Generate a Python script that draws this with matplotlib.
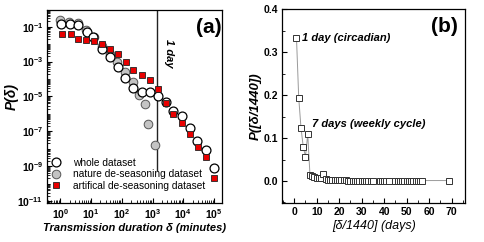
import numpy as np
import matplotlib
matplotlib.use("Agg")
import matplotlib.pyplot as plt
from matplotlib.ticker import LogLocator, FixedLocator, NullFormatter, MultipleLocator

plt.rcParams['font.family'] = ['Liberation Sans', 'DejaVu Sans']
plt.rcParams['mathtext.fontset'] = 'custom'
plt.rcParams['mathtext.bf'] = 'Liberation Sans:bold'
plt.rcParams['mathtext.rm'] = 'Liberation Sans'

# ---- panel (a) data (log10 values) ----
whole_logx = [0.01, 0.31, 0.58, 0.85, 1.07, 1.34, 1.61, 1.88, 2.10, 2.37, 2.64, 2.92, 3.19, 3.44, 3.67, 3.95, 4.22, 4.46, 4.74, 5.00]
whole_logy = [-0.84, -0.84, -0.90, -1.29, -1.58, -2.25, -2.73, -3.31, -3.92, -4.50, -4.77, -4.75, -5.00, -5.34, -5.81, -6.10, -6.83, -7.54, -8.07, -9.13]

nature_logx = [0.00, 0.29, 0.57, 0.83, 1.09, 1.34, 1.61, 1.84, 2.10, 2.36, 2.57, 2.75, 2.86, 3.08]
nature_logy = [-0.61, -0.73, -0.79, -1.19, -1.59, -2.11, -2.58, -3.04, -3.61, -4.19, -4.94, -5.42, -6.61, -7.77]

artif_logx = [0.06, 0.33, 0.58, 0.82, 1.09, 1.34, 1.61, 1.86, 2.13, 2.37, 2.64, 2.92, 3.19, 3.44, 3.67, 3.95, 4.22, 4.49, 4.74, 5.00]
artif_logy = [-1.42, -1.42, -1.71, -1.75, -1.84, -2.00, -2.25, -2.58, -3.05, -3.50, -3.79, -4.08, -4.55, -5.39, -6.00, -6.54, -7.15, -7.92, -8.46, -9.69]

day_minutes = 1440

# ---- panel (b) data ----
days = [1, 2, 3, 4, 5, 6, 7, 8, 9, 10, 11, 12, 13, 14, 15, 16, 17, 18, 19, 20,
        21, 22, 23, 24, 25, 26, 27, 28, 29, 30, 31, 32, 33, 34, 35,
        38, 39, 40, 41, 42, 45, 46, 47, 48, 49, 50, 51, 52, 53, 54, 55, 56, 57, 69]
prob = [0.334, 0.194, 0.124, 0.080, 0.057, 0.109, 0.014, 0.012, 0.010, 0.008, 0.007, 0.006, 0.017, 0.004, 0.003, 0.003, 0.003, 0.003, 0.002, 0.002,
        0.002, 0.002, 0.002, 0.001, 0.001, 0.001, 0.001, 0.001, 0.001, 0.001, 0.001, 0.001, 0.001, 0.001, 0.001,
        0.001, 0.001, 0.001, 0.001, 0.001, 0.001, 0.001, 0.001, 0.001, 0.001, 0.001, 0.001, 0.001, 0.001, 0.001, 0.001, 0.001, 0.001, 0.001]

W, H = 485, 242
fig = plt.figure(figsize=(W / 100, H / 100), dpi=100)

def px_axes(l, r, t, b):
    return fig.add_axes([l / W, 1 - b / H, (r - l) / W, (b - t) / H])

# ---------------- panel (a) ----------------
ax = px_axes(47.5, 222, 10, 202.7)
wx = 10 ** np.array(whole_logx); wy = 10 ** np.array(whole_logy)
nx = 10 ** np.array(nature_logx); ny = 10 ** np.array(nature_logy)
ax_ = 10 ** np.array(artif_logx); ay = 10 ** np.array(artif_logy)

ax.plot(nx, ny, 'o', ms=6.2, mfc='#c4c4c4', mec='#555555', mew=0.7, ls='none', zorder=3,
        label='nature de-seasoning dataset')
ax.plot(wx, wy, 'o', ms=6.4, mfc='white', mec='black', mew=0.9, ls='none', zorder=4,
        label='whole dataset')
ax.plot(ax_, ay, 's', ms=5.0, mfc='#e80000', mec='#222222', mew=0.6, ls='none', zorder=5,
        label='artifical de-seasoning dataset')
ax.plot([day_minutes, day_minutes], [10 ** -9.2, 10 ** 0.5], color='#222222', lw=1.0, zorder=2)

ax.set_xscale('log'); ax.set_yscale('log')
ax.set_xlim(10 ** -0.42, 10 ** 5.26)
ax.set_ylim(10 ** -11.1, 10 ** -0.04)
ax.xaxis.set_major_locator(FixedLocator([1, 10, 100, 1000, 1e4, 1e5]))
ax.xaxis.set_minor_locator(LogLocator(base=10, subs=np.arange(2, 10), numticks=20))
ax.xaxis.set_minor_formatter(NullFormatter())
ax.set_xticklabels([r'$\mathbf{10^{%d}}$' % i for i in range(6)])
yt = [10.0 ** e for e in (-1, -3, -5, -7, -9, -11)]
ax.yaxis.set_major_locator(FixedLocator(yt))
ax.set_yticklabels([r'$\mathbf{10^{%d}}$' % e for e in (-1, -3, -5, -7, -9, -11)])
ax.yaxis.set_minor_locator(FixedLocator([10.0 ** e * s for e in range(-12, 1) for s in (1, 2, 3, 4, 5, 6, 7, 8, 9) if not (s == 1 and e % 2 == 1)]))
ax.yaxis.set_minor_formatter(NullFormatter())
ax.tick_params(which='both', direction='in', labelsize=7.5, pad=3)
ax.tick_params(which='major', length=3.5, width=0.8)
ax.tick_params(which='minor', length=2, width=0.6)
for s in ax.spines.values():
    s.set_linewidth(0.9)

ax.set_xlabel('Transmission duration δ (minutes)', fontsize=8, fontweight='bold', style='italic', labelpad=2)
ax.set_ylabel('P(δ)', fontsize=10, fontweight='bold', style='italic', labelpad=1)
ax.yaxis.set_label_coords(-0.165, 0.55)
ax.text(0.995, 0.91, '(a)', transform=ax.transAxes, ha='right', va='center', fontsize=15, fontweight='bold')
ax.text(10 ** 3.53, 10 ** -2.5, '1 day', rotation=-90, ha='center', va='center', fontsize=8,
        fontweight='bold', style='italic')

h = ax.get_legend_handles_labels()[0]
leg = ax.legend([h[1], h[0], h[2]], ['whole dataset', 'nature de-seasoning dataset', 'artifical de-seasoning dataset'],
                loc='lower left', bbox_to_anchor=(0.0, 0.035), frameon=False, fontsize=7.3,
                handletextpad=1.45, labelspacing=0.15, borderaxespad=0.2, borderpad=0.3, handlelength=0.6)

# ---------------- panel (b) ----------------
bx = px_axes(282.3, 465, 9.3, 203.3)
bx.plot(days, prob, '-', color='#9a9a9a', lw=0.7, zorder=2)
bx.plot(days, prob, 's', ms=4.4, mfc='white', mec='#333333', mew=0.7, ls='none', zorder=3)
bx.set_xlim(-5.3, 75.9)
bx.set_ylim(-0.052, 0.4)
bx.xaxis.set_major_locator(MultipleLocator(10))
bx.xaxis.set_minor_locator(MultipleLocator(5))
bx.yaxis.set_major_locator(MultipleLocator(0.1))
bx.yaxis.set_minor_locator(MultipleLocator(0.05))
bx.set_xticks(range(0, 71, 10))
bx.set_xticklabels([str(v) for v in range(0, 71, 10)], fontweight='bold')
bx.set_yticks([0.0, 0.1, 0.2, 0.3, 0.4])
bx.set_yticklabels(['0.0', '0.1', '0.2', '0.3', '0.4'], fontweight='bold')
bx.tick_params(which='both', direction='in', labelsize=7.5, pad=3)
bx.tick_params(which='major', length=3.5, width=0.8)
bx.tick_params(which='minor', length=2, width=0.6)
for s in bx.spines.values():
    s.set_linewidth(0.9)
bx.set_xlabel('[δ/1440] (days)', fontsize=9, style='italic', labelpad=2)
bx.set_ylabel('P([δ/1440])', fontsize=9.5, fontweight='bold', style='italic', labelpad=1)
bx.text(0.96, 0.91, '(b)', transform=bx.transAxes, ha='right', va='center', fontsize=15, fontweight='bold')
bx.text(3.3, 0.334, '1 day (circadian)', ha='left', va='center', fontsize=8, fontweight='bold', style='italic')
bx.text(8.0, 0.133, '7 days (weekly cycle)', ha='left', va='center', fontsize=8, fontweight='bold', style='italic')

fig.savefig('out.png', dpi=100)
